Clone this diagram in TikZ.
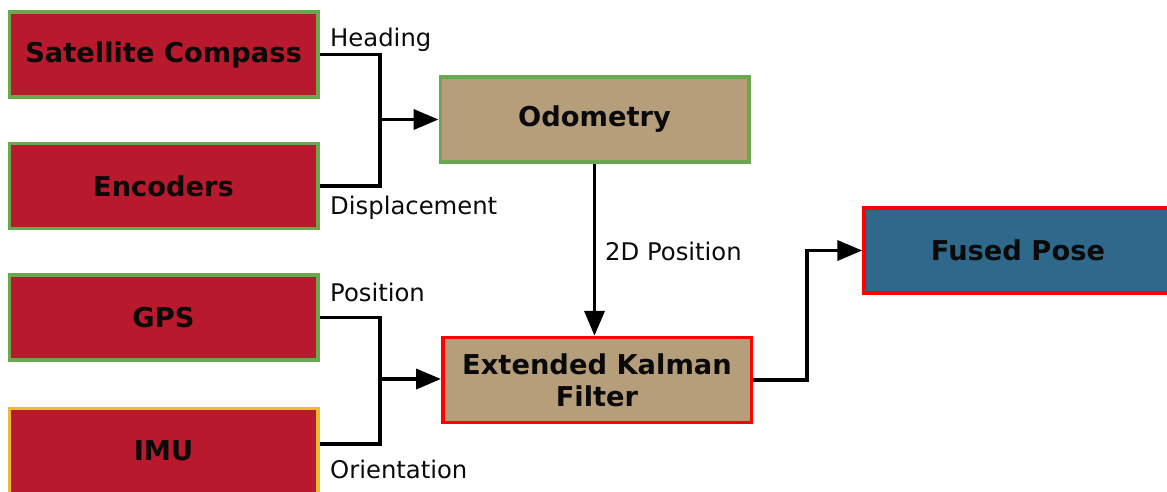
\documentclass[tikz,border=0pt]{standalone}
\usepackage{fontspec}
\setmainfont{DejaVu Sans}
\usetikzlibrary{arrows.meta}
\definecolor{srcred}{RGB}{185,25,45}
\definecolor{procTan}{RGB}{181,158,121}
\definecolor{outBlue}{RGB}{46,105,140}
\definecolor{okGreen}{RGB}{106,168,79}
\definecolor{warnYellow}{RGB}{240,185,50}
\definecolor{alertRed}{RGB}{255,0,0}
\definecolor{inkText}{RGB}{10,10,10}
\tikzset{
  block/.style={rectangle, line width=3.5pt, minimum width=308.5pt, minimum height=85pt,
    inner sep=0pt, align=center, text=inkText,
    font=\fontsize{27.3}{32}\selectfont\bfseries},
  sensor/.style={block, fill=srcred},
  stage/.style={block, fill=procTan},
  result/.style={block, fill=outBlue},
  sig/.style={font=\fontsize{24.3}{28}\selectfont, text=inkText, inner sep=0pt, anchor=west},
  wire/.style={line width=3.8pt, draw=black},
  flow/.style={wire, -{Triangle[length=25pt,width=20pt]}}
}
\begin{document}
\begin{tikzpicture}[x=1pt,y=-1pt]
\useasboundingbox (0,0) rectangle (1167,491);

% sensor sources
\node[sensor, draw=okGreen] (sat) at (163.5,54.5) {Satellite Compass};
\node[sensor, draw=okGreen] (enc) at (163.5,186) {Encoders};
\node[sensor, draw=okGreen] (gps) at (163.5,317.5) {GPS};
\node[sensor, draw=warnYellow] (imu) at (163.5,451) {IMU};

% processing stages
\node[stage, draw=okGreen] (odo) at (594.5,119.5) {Odometry};
\node[stage, draw=alertRed] (ekf) at (597,380) {Extended Kalman\\Filter};
\node[result, draw=alertRed, minimum width=316pt] (pose) at (1022,250.5) {\hspace*{-8pt}Fused Pose};

% merge points
\coordinate (jodo) at (380,119.5);
\coordinate (jekf) at (380,379);
\coordinate (jpose) at (807,250.5);
\coordinate (imuout) at (imu.east |- 0,444);

% odometry inputs
\draw[wire] (sat.east) -| (jodo) |- (enc.east);
\draw[flow] (jodo) -- (odo.west);

% filter inputs
\draw[wire] (gps.east) -| (jekf) |- (imuout);
\draw[flow] (jekf) -- (ekf.west |- jekf);

% odometry into filter
\draw[flow] (odo.south) -- (odo.south |- ekf.north);

% filter output
\draw[flow] (ekf.east) -| (jpose) -- (pose.west);

% signal labels
\node[sig] (lhead) at (330,40) {Heading};
\node[sig] (ldisp) at (330,208) {Displacement};
\node[sig] (lpos) at (330,292) {Position};
\node[sig] (lori) at (330,469) {Orientation};
\node[sig] (l2d) at (605,251) {2D Position};
\end{tikzpicture}
\end{document}
